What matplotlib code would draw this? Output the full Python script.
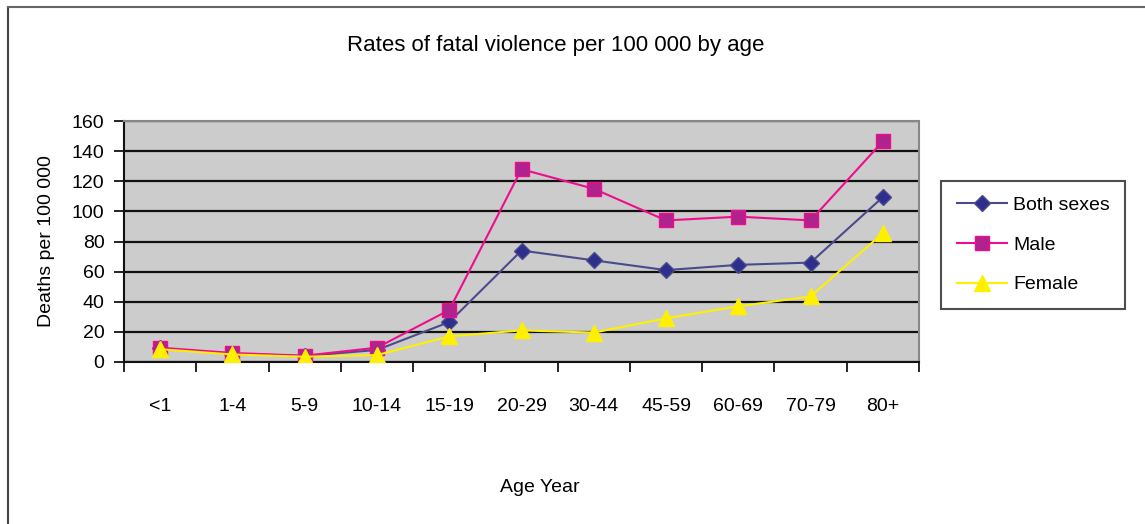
import matplotlib
matplotlib.use('Agg')
import matplotlib.pyplot as plt
from matplotlib.lines import Line2D
import numpy as np

plt.rcParams['font.family'] = ['Liberation Sans Narrow', 'Liberation Sans', 'DejaVu Sans']

ages = ['<1', '1-4', '5-9', '10-14', '15-19', '20-29', '30-44', '45-59', '60-69', '70-79', '80+']
both = [9, 5.5, 4, 8, 26.5, 74, 67.5, 61, 64.5, 66, 109.5]
male = [9.5, 6, 4.2, 9.5, 34.5, 128, 115, 94, 96.5, 94, 146.5]
female = [8.5, 5, 3.5, 4.6, 17, 21, 19.5, 29, 37, 43.5, 85.5]

fig = plt.figure(figsize=(11.45, 5.24), dpi=100)

# outer frame (only top and left edges visible in the original)
fig.add_artist(Line2D([8 / 1145, 8 / 1145], [0, 1 - 7 / 524], transform=fig.transFigure, color='#444444', lw=1.5))
fig.add_artist(Line2D([8 / 1145, 1], [1 - 7 / 524, 1 - 7 / 524], transform=fig.transFigure, color='#666666', lw=1.5))

ax = fig.add_axes([124 / 1145, 162 / 524, 795 / 1145, 241 / 524])
ax.set_facecolor('#CCCCCC')

x = np.arange(len(ages))
ax.plot(x, both, color='#4B4B8C', lw=1.5, marker='D', markersize=8,
        markerfacecolor='#2E2E8C', markeredgecolor='#4B4B8C', label='Both sexes', zorder=3)
ax.plot(x, male, color='#EE0D8C', lw=1.5, marker='s', markersize=10,
        markerfacecolor='#B0228C', markeredgecolor='#EE0D8C', label='Male', zorder=4)
ax.plot(x, female, color='#FFF000', lw=1.5, marker='^', markersize=11,
        markerfacecolor='#FFF000', markeredgecolor='#FFF000', label='Female', zorder=5)

ax.set_xlim(-0.5, len(ages) - 0.5)
ax.set_ylim(0, 160)
ax.set_yticks(np.arange(0, 161, 20))
ax.yaxis.grid(True, color='#111111', lw=1.6)
ax.set_axisbelow(True)

ax.set_xticks(np.arange(-0.5, len(ages), 1))
ax.set_xticklabels([])
ax.set_xticks(x, minor=True)
ax.set_xticklabels(ages, minor=True, fontsize=14)
ax.tick_params(axis='x', which='major', length=7, width=1.2, direction='out')
ax.tick_params(axis='x', which='minor', length=0, pad=26)
ax.tick_params(axis='y', length=7, width=1.2, labelsize=14, pad=7)

for s in ['top', 'right']:
    ax.spines[s].set_color('#888888')
    ax.spines[s].set_linewidth(1.5)
for s in ['left', 'bottom']:
    ax.spines[s].set_color('#111111')
    ax.spines[s].set_linewidth(1.5)

ax.set_ylabel('Deaths per 100 000', fontsize=14, labelpad=12)
fig.text(556 / 1145, 1 - 46 / 524, 'Rates of fatal violence per 100 000 by age',
         ha='center', va='center', fontsize=16)
fig.text(540 / 1145, 1 - 488 / 524, 'Age Year', ha='center', va='center', fontsize=14)

leg = fig.legend(loc='upper left', bbox_to_anchor=(941 / 1145, 1 - 181 / 524),
                 borderaxespad=0, frameon=True, fancybox=False, fontsize=14,
                 handlelength=2.6, labelspacing=1.13, borderpad=0.8, handletextpad=0.3)
leg.get_frame().set_edgecolor('#222222')
leg.get_frame().set_linewidth(1.5)

fig.savefig('out.png', dpi=100)
